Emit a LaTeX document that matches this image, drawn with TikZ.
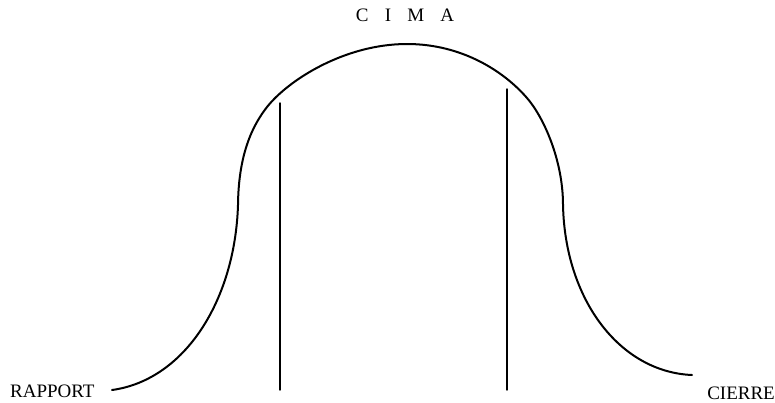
\documentclass[tikz,border=0pt]{standalone}
\usepackage{fontspec}
\setmainfont{Liberation Serif}
\begin{document}
\begin{tikzpicture}[x=1pt, y=-1pt, font=\fontsize{19}{21}\selectfont, line join=round, line cap=round]
	\useasboundingbox (0,0) rectangle (775,402);
	\node[anchor=base west, inner sep=0] (rapport) at (10,397) {RAPPORT};
	\node[anchor=base east, inner sep=0] (cierre) at (775,399) {CIERRE};
	\node[anchor=base, inner sep=0] (cima) at (405,21) {C\hspace{0.85em}I\hspace{0.85em}M\hspace{0.85em}A};
	\coordinate (inicio) at (112,390);
	\coordinate (fin) at (692,375);
	\coordinate (izq) at (238,205);
	\coordinate (der) at (563,205);
	\coordinate (tope) at (407,44);
	\draw[line width=2pt] (inicio) .. controls (185,380) and (235,300) .. (izq)
		.. controls (238.5,150) and (255,122.5) .. (267,107)
		.. controls (288.7,79.7) and (345,44) .. (tope)
		.. controls (462,44) and (504,71.4) .. (527,98)
		.. controls (543.5,117) and (563,160) .. (der)
		.. controls (565,300) and (620,372) .. (fin);
	\foreach \x/\y in {280/103, 507/89}{\draw[line width=1.4pt] (\x,\y)--(\x,390);}
\end{tikzpicture}
\end{document}
